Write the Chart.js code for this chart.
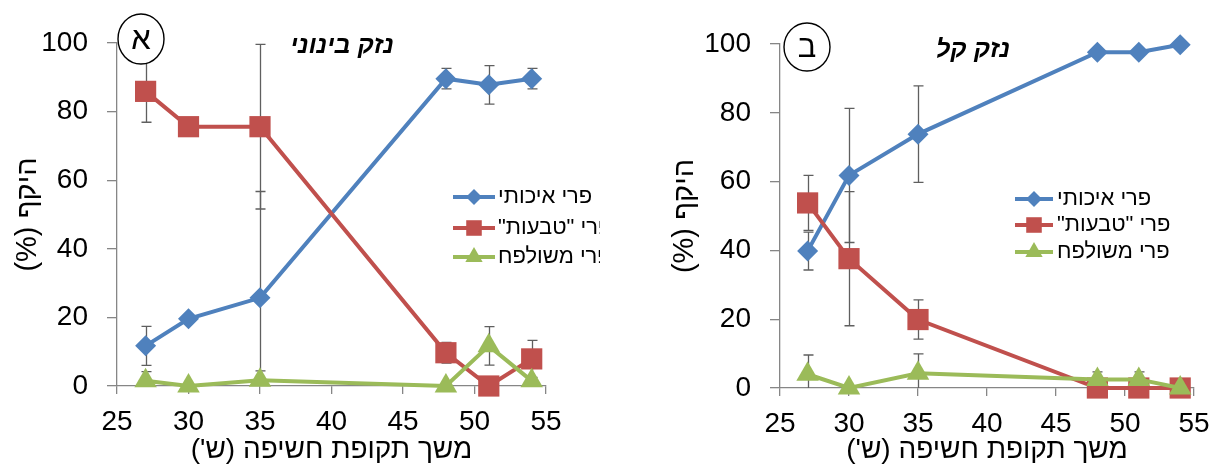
<!DOCTYPE html>
<html>
<head>
    <title>היקף פרי לפי משך תקופת חשיפה</title>
    <script src="https://cdn.jsdelivr.net/npm/chart.js"></script>
    <style>
        body {
            margin: 0;
            background-color: #ffffff;
            width: 1222px;
            height: 470px;
            overflow: hidden;
            position: relative;
        }
        .panel {
            position: absolute;
            top: 0;
            height: 470px;
            overflow: hidden;
        }
    </style>
</head>
<body>
    <div class="panel" style="left: 0; width: 600px;">
        <canvas id="chartA" dir="rtl" width="600" height="470"></canvas>
    </div>
    <div class="panel" style="left: 600px; width: 622px;">
        <canvas id="chartB" dir="rtl" width="622" height="470"></canvas>
    </div>

    <script>
        // exposure weeks and axis ticks
        const weeks = [27, 30, 35, 48, 51, 54];
        const xTicks = [25, 30, 35, 40, 45, 50, 55];
        const yTicks = [0, 20, 40, 60, 80, 100];
        const seriesNames = ['פרי איכותי', 'פרי "טבעות"', 'פרי משולפח'];

        // panel א - medium damage
        const medQuality = [11.7, 19.6, 25.7, 89.6, 87.8, 89.6];
        const medQualityErr = [5.7, 0, 31, 3, 5.6, 3];
        const medRing = [85.9, 75.6, 75.6, 9.7, 0, 7.9];
        const medRingErr = [9, 0, 24, 3, 0, 5.4];
        const medScald = [1.5, 0, 1.7, 0, 11.7, 1.5];
        const medScaldErr = [2.7, 0, 2.7, 0, 5.6, 0];

        // panel ב - light damage
        const lightQuality = [39.8, 61.8, 73.8, 97.6, 97.6, 99.8];
        const lightQualityErr = [5.5, 19.5, 14, 0, 0, 0];
        const lightRing = [53.8, 37.6, 19.9, 0, 0, 0];
        const lightRingErr = [8, 19.5, 5.7, 0, 0, 0];
        const lightScald = [4, 0, 4.3, 2.5, 2.5, 0];
        const lightScaldErr = [5.6, 0, 5.6, 2.2, 2.2, 0];

        const FONT = "'Liberation Sans', Arial, 'DejaVu Sans', sans-serif";
        const AXIS_GRAY = '#868686';

        const styles = [
            { color: '#4F81BD', pointStyle: 'rectRot', radius: 10.5, legendRadius: 8, order: 2 },
            { color: '#C0504D', pointStyle: 'rect', radius: 15, legendRadius: 11, order: 1 },
            { color: '#9BBB59', pointStyle: 'triangle', radius: 13, legendRadius: 10, order: 0 }
        ];

        // vertical error bars, drawn behind the series
        const errorBars = {
            id: 'errorBars',
            beforeDatasetsDraw(chart) {
                const { ctx, scales: { x, y } } = chart;
                ctx.save();
                ctx.strokeStyle = '#5f5f5f';
                ctx.lineWidth = 1.3;
                chart.data.datasets.forEach(ds => {
                    ds.errors.forEach((e, i) => {
                        if (!e) return;
                        const p = ds.data[i];
                        const px = Math.round(x.getPixelForValue(p.x)) + 0.5;
                        const lo = Math.max(p.y - e, y.min);
                        const hi = Math.min(p.y + e, y.max);
                        const yLo = y.getPixelForValue(lo);
                        const yHi = y.getPixelForValue(hi);
                        ctx.beginPath();
                        ctx.moveTo(px, yLo);
                        ctx.lineTo(px, yHi);
                        if (p.y + e <= y.max) {
                            ctx.moveTo(px - 5, yHi);
                            ctx.lineTo(px + 5, yHi);
                        }
                        if (p.y - e >= y.min) {
                            ctx.moveTo(px - 5, yLo);
                            ctx.lineTo(px + 5, yLo);
                        }
                        ctx.stroke();
                    });
                });
                ctx.restore();
            }
        };

        // legend inside the plot, symbols left of the hebrew text
        const sideLegend = {
            id: 'sideLegend',
            afterDraw(chart, args, opts) {
                const ctx = chart.ctx;
                ctx.save();
                ctx.font = '22px ' + FONT;
                ctx.textBaseline = 'middle';
                ctx.textAlign = 'left';
                ctx.direction = 'rtl';
                chart.data.datasets.forEach((ds, i) => {
                    const yy = opts.rows[i];
                    ctx.strokeStyle = ds.borderColor;
                    ctx.lineWidth = 4;
                    ctx.beginPath();
                    ctx.moveTo(opts.x0, yy);
                    ctx.lineTo(opts.x1, yy);
                    ctx.stroke();
                    ctx.fillStyle = ds.borderColor;
                    Chart.helpers.drawPoint(ctx, {
                        pointStyle: ds.pointStyle,
                        radius: styles[i].legendRadius,
                        rotation: 0,
                        borderWidth: 0
                    }, (opts.x0 + opts.x1) / 2, yy);
                    ctx.fillStyle = '#000';
                    ctx.fillText(ds.label, opts.textX, yy);
                });
                ctx.restore();
            }
        };

        // circled panel letter and bold italic panel title
        const badge = {
            id: 'badge',
            afterDraw(chart, args, o) {
                const ctx = chart.ctx;
                ctx.save();
                ctx.beginPath();
                ctx.ellipse(o.cx, o.cy, o.rx, o.ry, 0, 0, Math.PI * 2);
                ctx.fillStyle = '#fff';
                ctx.fill();
                ctx.lineWidth = 1.4;
                ctx.strokeStyle = '#000';
                ctx.stroke();
                ctx.fillStyle = '#000';
                ctx.textAlign = 'center';
                ctx.textBaseline = 'middle';
                ctx.direction = 'rtl';
                ctx.font = '31px ' + FONT;
                ctx.fillText(o.letter, o.cx, o.cy + 1);
                ctx.font = 'italic bold 25px ' + FONT;
                ctx.fillText(o.title, o.tx, o.ty);
                ctx.restore();
            }
        };

        function buildDatasets(values, errors) {
            return values.map((vals, i) => ({
                label: seriesNames[i],
                data: weeks.map((w, j) => ({ x: w, y: vals[j] })),
                errors: errors[i],
                showLine: true,
                borderColor: styles[i].color,
                backgroundColor: styles[i].color,
                borderWidth: 4,
                pointStyle: styles[i].pointStyle,
                pointRadius: styles[i].radius,
                pointBorderWidth: 0,
                pointBackgroundColor: styles[i].color,
                order: styles[i].order,
                clip: false
            }));
        }

        function makeChart(id, values, errors, layout, legendOpts, badgeOpts) {
            const ctx = document.getElementById(id).getContext('2d');
            return new Chart(ctx, {
                type: 'scatter',
                data: { datasets: buildDatasets(values, errors) },
                plugins: [errorBars, sideLegend, badge],
                options: {
                    responsive: false,
                    animation: false,
                    events: [],
                    layout: { padding: layout.padding },
                    plugins: {
                        legend: { display: false },
                        tooltip: { enabled: false },
                        sideLegend: legendOpts,
                        badge: badgeOpts
                    },
                    scales: {
                        x: {
                            type: 'linear',
                            min: 25,
                            max: 55,
                            afterBuildTicks: s => { s.ticks = xTicks.map(v => ({ value: v })); },
                            afterFit: s => { s.height = layout.xHeight; },
                            border: { display: true, color: AXIS_GRAY, width: 1.3 },
                            grid: { drawOnChartArea: false, drawTicks: true, tickLength: 8, color: AXIS_GRAY, lineWidth: 1.3 },
                            ticks: {
                                color: '#000',
                                padding: 11,
                                maxRotation: 0,
                                font: { size: 28, family: FONT }
                            },
                            title: {
                                display: true,
                                text: "משך תקופת חשיפה (ש')",
                                color: '#000',
                                padding: { top: 0, bottom: 3 },
                                font: { size: 28, family: FONT }
                            }
                        },
                        y: {
                            min: 0,
                            max: 100,
                            afterBuildTicks: s => { s.ticks = yTicks.map(v => ({ value: v })); },
                            afterFit: s => { s.width = layout.yWidth; },
                            border: { display: true, color: AXIS_GRAY, width: 1.3 },
                            grid: { drawOnChartArea: false, drawTicks: true, tickLength: 10, color: AXIS_GRAY, lineWidth: 1.3 },
                            ticks: {
                                color: '#000',
                                padding: 19,
                                font: { size: 28, family: FONT }
                            },
                            title: {
                                display: true,
                                text: 'היקף (%)',
                                color: '#000',
                                padding: { top: 11, bottom: 0 },
                                font: { size: 29, family: FONT }
                            }
                        }
                    }
                }
            });
        }

        makeChart('chartA',
            [medQuality, medRing, medScald],
            [medQualityErr, medRingErr, medScaldErr],
            { padding: { left: 0, right: 54, top: 43, bottom: 0 }, yWidth: 117, xHeight: 84 },
            { x0: 453, x1: 495, textX: 498, rows: [197, 228, 257] },
            { cx: 141, cy: 39, rx: 23, ry: 25, letter: 'א', title: 'נזק בינוני', tx: 342, ty: 46 }
        );

        makeChart('chartB',
            [lightQuality, lightRing, lightScald],
            [lightQualityErr, lightRingErr, lightScaldErr],
            { padding: { left: 57, right: 28, top: 44, bottom: 0 }, yWidth: 123, xHeight: 82 },
            { x0: 415, x1: 453, textX: 457, rows: [199, 225, 252] },
            { cx: 207, cy: 47, rx: 23, ry: 24, letter: 'ב', title: 'נזק קל', tx: 373, ty: 50 }
        );
    </script>
</body>
</html>
